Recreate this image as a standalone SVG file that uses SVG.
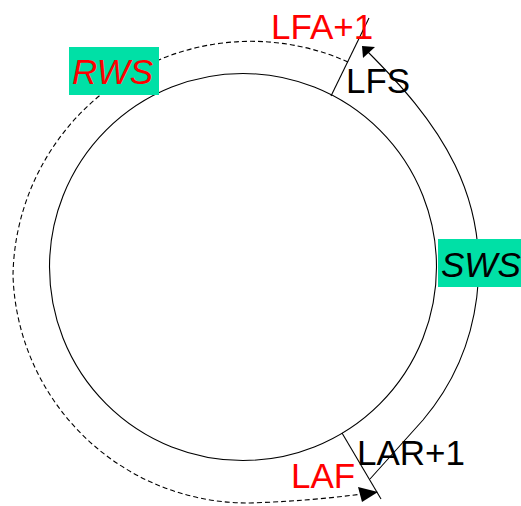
<svg xmlns="http://www.w3.org/2000/svg" width="521" height="506" viewBox="0 0 521 506">
<style>
.ln{fill:none;stroke:#000;stroke-width:1.1}
.dash{stroke-dasharray:5,3}
.t{font-family:"Liberation Sans",Arial,sans-serif;font-size:35px}
.red{fill:#ff0000}
.blk{fill:#000}
.box{fill:#00e0a6}
</style>
<rect width="521" height="506" fill="#fff"/>
<g id="ring">
<circle class="ln" cx="243" cy="267" r="193.5"/>
</g>
<g id="connectors">
<path class="ln dash" d="M348,62 A238,238 0 0 0 13,275 A235,235 0 0 0 250,503 Q310,501 362,494"/>
<polygon points="358,487 378,492 362,502" fill="#000"/>
<path class="ln" d="M370,479 L423,420 A236,236 0 0 0 455,165 C433,120 400,84 366,50"/>
<polygon points="362,46 375,47 363,58" fill="#000"/>
<line class="ln" x1="331" y1="96" x2="369" y2="18"/>
<line class="ln" x1="342" y1="433" x2="381" y2="499"/>
</g>
<g id="RWS">
<rect class="box" x="69" y="47" width="90" height="48"/>
<text class="t red" x="72" y="84" font-style="italic">RWS</text>
</g>
<g id="SWS">
<rect class="box" x="438" y="239" width="90" height="48"/>
<text class="t blk" x="441" y="277" font-style="italic">SWS</text>
</g>
<g id="LFA1">
<text class="t red" x="271" y="39">LFA+1</text>
</g>
<g id="LFS">
<text class="t blk" x="346" y="93">LFS</text>
</g>
<g id="LAR1">
<text class="t blk" x="357" y="465">LAR+1</text>
</g>
<g id="LAF">
<text class="t red" x="291" y="488">LAF</text>
</g>
</svg>
